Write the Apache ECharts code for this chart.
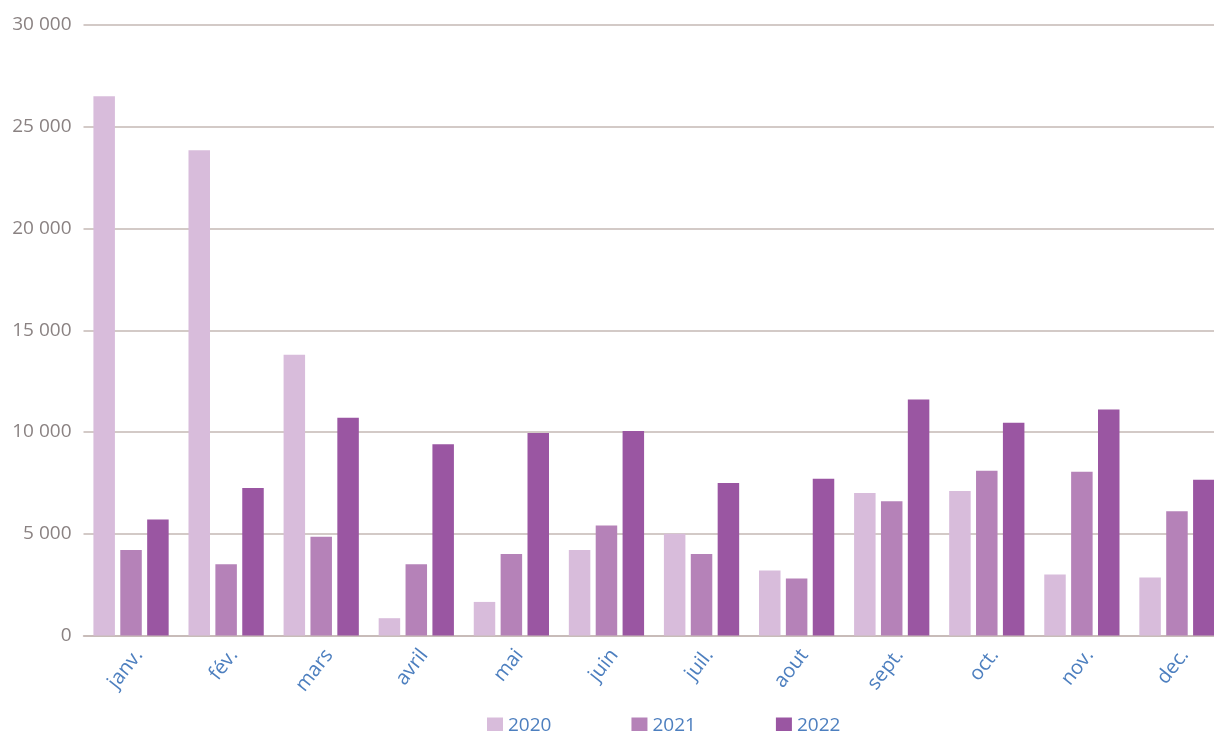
<!DOCTYPE html>
<html>
<head>
<meta charset="utf-8">
<script src="https://cdn.jsdelivr.net/npm/echarts@6/dist/echarts.min.js"></script>
<style>
  html, body { margin: 0; padding: 0; background: #ffffff; overflow: hidden; width: 1214px; height: 731px; }
  #chart { width: 1226px; height: 731px; }
</style>
</head>
<body>
<div id="chart"></div>
<script>
const categories = ['janv.', 'fév.', 'mars', 'avril', 'mai', 'juin', 'juil.', 'aout', 'sept.', 'oct.', 'nov.', 'dec.'];
const seriesNames = ['2020', '2021', '2022'];
const values2020 = [26500, 23850, 13800, 850, 1650, 4200, 5000, 3200, 7000, 7100, 3000, 2850];
const values2021 = [4200, 3500, 4850, 3500, 4000, 5400, 4000, 2800, 6600, 8100, 8050, 6100];
const values2022 = [5700, 7250, 10700, 9400, 9950, 10050, 7500, 7700, 11600, 10450, 11100, 7650];
const colors = ['#d8bcdb', '#b582b8', '#9a56a2'];

const chart = echarts.init(document.getElementById('chart'), null, { renderer: 'canvas' });

function fmt(v) {
  return String(v).replace(/\B(?=(\d{3})+(?!\d))/g, ' ');
}

const allValues = [values2020, values2021, values2022];

chart.setOption({
  animation: false,
  backgroundColor: '#ffffff',
  grid: { left: 83.5, top: 25, width: 1141, bottom: 95.5, containLabel: false },
  legend: {
    data: seriesNames,
    left: 482,
    top: 711,
    itemWidth: 16,
    itemHeight: 16,
    itemGap: 80,
    icon: 'rect',
    textStyle: { color: '#4d7fbf', fontSize: 19, fontFamily: 'Open Sans' }
  },
  xAxis: {
    type: 'category',
    data: categories,
    axisLine: { show: true, lineStyle: { color: '#c5b8b5', width: 1.5 } },
    axisTick: { show: false },
    axisLabel: {
      color: '#4d7fbf',
      fontSize: 20,
      fontFamily: 'Open Sans',
      rotate: 52,
      margin: 10,
      verticalAlign: 'top',
      interval: 0
    }
  },
  yAxis: {
    type: 'value',
    min: 0,
    max: 30000,
    interval: 5000,
    axisLine: { show: false },
    axisTick: { show: false },
    axisLabel: {
      color: '#8a8282',
      fontSize: 19,
      fontFamily: 'Open Sans',
      margin: 12,
      formatter: fmt
    },
    splitLine: { show: true, lineStyle: { color: '#c5b8b5', width: 1.5 } }
  },
  series: seriesNames.map((name, i) => ({
    name: name,
    type: 'bar',
    data: allValues[i],
    barWidth: 21.5,
    barGap: '25%',
    itemStyle: { color: colors[i] }
  }))
});
</script>
</body>
</html>
